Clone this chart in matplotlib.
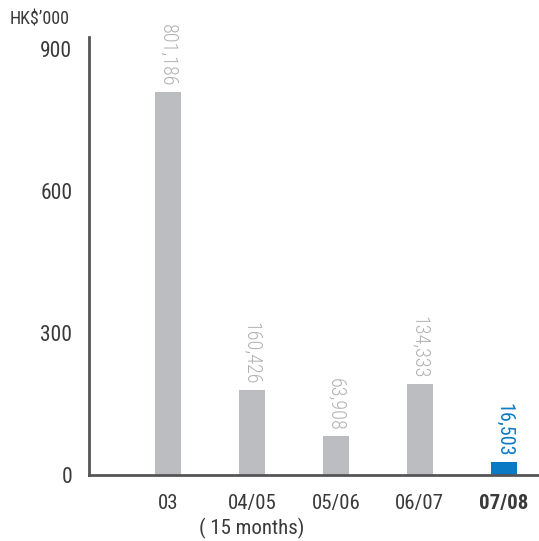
import matplotlib
matplotlib.use("Agg")
import matplotlib.pyplot as plt

categories = ["03", "04/05\n( 15 months)", "05/06", "06/07", "07/08"]
values = [809, 180, 82, 192, 27]
value_labels = ["801,186", "160,426", "63,908", "134,333", "16,503"]
yticks = [0, 300, 600, 900]

plt.rcParams['font.family'] = ['Roboto Condensed', 'DejaVu Sans']

gray = "#bcbdc0"
blue = "#0a7ac4"
textc = "#3a3a3a"

fig = plt.figure(figsize=(5.39, 5.41), dpi=100)
ax = fig.add_axes([89/539, (541-475)/541, (539-89)/539, (475-37)/541])

x = list(range(len(categories)))
colors = [gray]*4 + [blue]
ax.bar(x, values, width=26/84, color=colors)
ax.set_xlim(-0.94, 4.42)
ax.set_ylim(0, 925)

for xi, v, lab, c in zip(x, values, value_labels, colors):
    lc = "#b0b1b4" if c == gray else blue
    fw = "light" if c == gray else "normal"
    ax.annotate(lab, (xi, v), xytext=(0, 4), textcoords="offset points",
                rotation=270, ha="center", va="bottom", fontsize=14.5,
                color=lc, fontweight=fw)

ax.set_yticks(yticks)
ax.set_yticklabels([str(t) for t in yticks], fontsize=15.5, color=textc)
ax.set_xticks(x)
ax.set_xticklabels(categories, fontsize=15, color=textc, linespacing=1.3)
ax.get_xticklabels()[-1].set_fontweight("bold")
ax.tick_params(axis="both", length=0)
ax.tick_params(axis="y", pad=12)
ax.tick_params(axis="x", pad=14)
for s in ["top", "right"]:
    ax.spines[s].set_visible(False)
for s in ["left", "bottom"]:
    ax.spines[s].set_color("#555555")
    ax.spines[s].set_linewidth(2)

fig.text(10/539, 1 - 19/541, "HK$\u2019000", fontsize=13, color=textc, va="center", ha="left")

fig.savefig("out.png", dpi=100)
